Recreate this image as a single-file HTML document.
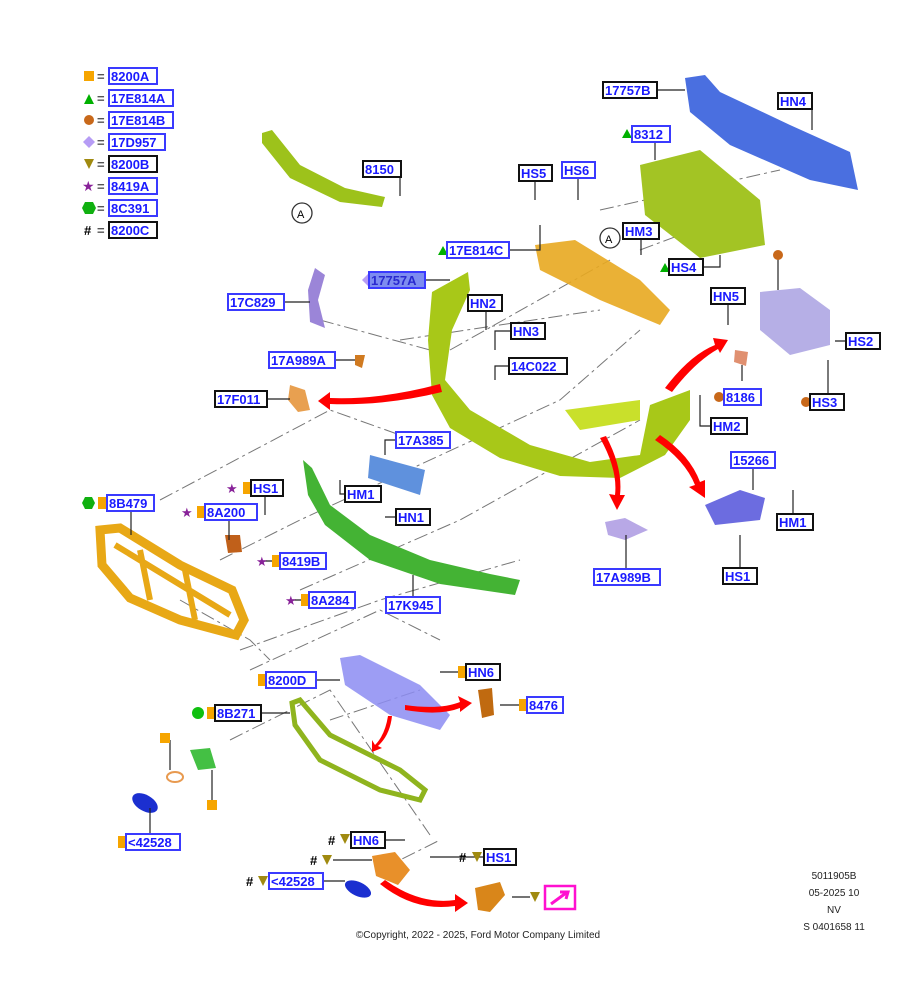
<!DOCTYPE html>
<html><head><meta charset="utf-8"><style>
html,body{margin:0;padding:0;background:#fff;}
svg{display:block;font-family:"Liberation Sans",sans-serif;}
.l rect{fill:#fff;stroke-width:2;}
.l text{font-weight:bold;font-size:13px;fill:#1a1aff;}
.B rect{stroke:#3a3aff;} .K rect{stroke:#111;}
.ln{stroke:#222;stroke-width:1.2;fill:none;}
.dd{stroke:#777;stroke-width:1;fill:none;stroke-dasharray:14,4,3,4;}
.ar{fill:#f00;}
</style></head><body>
<svg width="915" height="1000" viewBox="0 0 915 1000" xmlns="http://www.w3.org/2000/svg">
<g class="dd">
<path d="M320 320 L430 350 M400 340 L600 310 M160 500 L330 410 L400 435 M220 560 L300 520 L560 400 L640 330 M300 590 L460 520 L640 420 M240 650 L380 600 L520 560 M180 600 L250 640 L270 660 M250 670 L380 610 L440 640 M330 720 L420 690 M230 740 L330 690 L430 835 M380 870 L440 840 M600 210 L780 170 M640 250 L720 220 M450 350 L610 260"/>
</g>
<!-- parts -->
<path d="M262 133 L272 130 L300 165 L345 188 L385 197 L382 207 L340 202 L290 178 L262 143Z" fill="#9dc21b"/>
<path d="M685 78 L705 75 L720 92 L790 125 L850 152 L858 190 L810 180 L730 145 L690 112Z" fill="#4a6fe0"/>
<path d="M640 165 L700 150 L760 200 L765 245 L700 258 L645 215Z" fill="#a3c424"/>
<path d="M535 245 L575 240 L640 280 L670 310 L660 325 L600 300 L540 270Z" fill="#e8a820" opacity="0.9"/>
<path d="M432 292 L468 272 L470 290 L452 330 L445 380 L470 410 L530 445 L590 462 L640 455 L650 405 L690 390 L690 420 L665 455 L620 478 L560 476 L500 458 L450 428 L432 395 L428 340Z" fill="#a8c818"/>
<path d="M565 410 L640 400 L640 420 L580 430Z" fill="#c9e02b"/>
<path d="M315 268 L325 275 L318 300 L325 328 L310 322 L308 290Z" fill="#9b85d8"/>
<path d="M290 385 L305 390 L310 410 L298 412 L288 400Z" fill="#e8a050"/>
<path d="M355 355 L365 355 L362 368 L355 365Z" fill="#d07a20"/>
<path d="M370 455 L425 470 L420 495 L368 478Z" fill="#5f91dd"/>
<path d="M303 460 L312 468 L330 505 L370 535 L430 560 L490 574 L520 580 L515 595 L440 584 L370 560 L325 525 L308 495Z" fill="#44b334"/>
<path d="M100 530 L120 528 L180 565 L232 590 L244 620 L236 635 L180 620 L130 598 L102 565Z" fill="none" stroke="#e8a816" stroke-width="9"/>
<path d="M115 545 L230 615 M140 550 L150 600 M185 570 L195 620" stroke="#e8a816" stroke-width="6"/>
<path d="M225 535 L240 535 L242 552 L228 553Z" fill="#c0601a"/>
<path d="M760 292 L800 288 L830 310 L830 345 L790 355 L760 330Z" fill="#b6afe6"/>
<path d="M735 350 L748 352 L746 366 L734 362Z" fill="#e09070"/>
<path d="M705 505 L740 490 L765 498 L760 520 L715 525Z" fill="#6c6ce0"/>
<path d="M605 522 L625 518 L648 530 L625 540 L608 535Z" fill="#b8a8e6"/>
<path d="M340 658 L360 655 L420 685 L450 715 L440 730 L390 715 L345 685Z" fill="#8c8cf2" opacity="0.85"/>
<path d="M292 703 L300 700 L330 735 L400 770 L425 790 L420 800 L380 790 L320 760 L295 725Z" fill="none" stroke="#8fb41e" stroke-width="5"/>
<path d="M478 690 L492 688 L494 715 L482 718Z" fill="#c06a10"/>
<path d="M190 750 L210 748 L216 768 L198 770Z" fill="#44c044"/>
<ellipse cx="145" cy="803" rx="14" ry="8" fill="#1b2fd0" transform="rotate(30 145 803)"/>
<ellipse cx="175" cy="777" rx="8" ry="5" fill="none" stroke="#e89a50" stroke-width="2"/>
<path d="M372 856 L395 852 L410 870 L398 885 L376 876Z" fill="#e8902a"/>
<ellipse cx="358" cy="889" rx="14" ry="7" fill="#1b2fd0" transform="rotate(25 358 889)"/>
<path d="M475 888 L500 882 L505 895 L490 912 L478 910Z" fill="#d9861a"/>
<g class="ar">
<path d="M440 384 Q380 400 330 398 L330 392 L318 401 L330 410 L330 404 Q385 406 442 392Z"/>
<path d="M665 388 Q690 355 715 345 L713 338 L728 340 L720 353 L718 349 Q695 362 672 392Z"/>
<path d="M600 438 Q618 470 615 495 L609 494 L617 510 L625 495 L620 495 Q623 468 606 436Z"/>
<path d="M655 440 Q685 460 695 485 L689 487 L705 498 L705 480 L700 482 Q690 455 660 435Z"/>
<path d="M405 705 Q440 710 460 702 L458 696 L472 703 L460 712 L460 708 Q440 716 405 710Z"/>
<path d="M388 716 Q385 735 375 745 L372 740 L372 752 L382 748 L378 746 Q390 735 392 716Z"/>
<path d="M385 880 Q420 905 455 900 L455 894 L468 903 L455 912 L455 906 Q415 912 380 884Z"/>
</g>
<g class="ln">
<path d="M400 169 L400 196 M657 90 L685 90 M812 109 L812 130 M671 134 L655 134 L655 160 M535 181 L535 200 M578 178 L578 200 M641 239 L641 255 M509 250 L540 250 L540 225 M703 267 L720 267 L720 255 M425 280 L450 280 M284 302 L310 302 M728 304 L728 325 M486 311 L486 330 M511 331 L495 331 L495 350 M778 290 L778 255 M846 341 L835 341 M335 360 L355 360 M509 366 L495 366 L495 380 M742 381 L742 365 M828 394 L828 360 M267 399 L290 399 M711 426 L700 426 L700 395 M396 440 L385 440 L385 455 M753 468 L753 490 M265 496 L265 515 M345 494 L340 494 L340 480 M396 517 L385 517 M777 522 L793 522 L793 490 M131 511 L131 535 M229 520 L229 540 M280 561 L260 561 M740 568 L740 535 M626 569 L626 535 M309 600 L290 600 M413 597 L413 575 M466 672 L440 672 M316 680 L340 680 M527 705 L500 705 M261 713 L290 713 M150 834 L150 808 M385 840 L405 840 M484 857 L430 857 M323 881 L345 881 M512 897 L530 897 M333 860 L372 860 M170 740 L170 770 M212 770 L212 800"/>
</g>
<circle cx="302" cy="213" r="10" fill="#fff" stroke="#333" stroke-width="1.3"/><text x="297" y="218" font-size="11">A</text>
<circle cx="610" cy="238" r="10" fill="#fff" stroke="#333" stroke-width="1.3"/><text x="605" y="243" font-size="11">A</text>
<rect x="84" y="71" width="10" height="10" fill="#f6a500"/>
<path d="M84 104 L89 94 L94 104Z" fill="#00b000"/>
<circle cx="89" cy="120" r="5" fill="#c8681a"/>
<path d="M89 136 L95 142 L89 148 L83 142Z" fill="#b69cf5"/>
<path d="M84 159 L94 159 L89 169Z" fill="#a08a10"/>
<text x="82" y="191" font-size="14" fill="#882299">★</text>
<path d="M85 202 L93 202 L96 208 L93 214 L85 214 L82 208Z" fill="#10b010"/>
<text x="84" y="235" font-size="13" font-weight="bold">#</text>
<g font-size="13" font-weight="bold" fill="#555"><text x="97" y="81">=</text><text x="97" y="103">=</text><text x="97" y="125">=</text><text x="97" y="147">=</text><text x="97" y="169">=</text><text x="97" y="191">=</text><text x="97" y="213">=</text><text x="97" y="235">=</text></g>
<path d="M622 138 L627 129 L632 138Z" fill="#00b000"/>
<path d="M438 255 L443 246 L448 255Z" fill="#00b000"/>
<path d="M660 272 L665 263 L670 272Z" fill="#00b000"/>
<path d="M362 280 L368 274 L374 280 L368 286Z" fill="#b69cf5"/>
<circle cx="716" cy="296" r="5" fill="#c8681a"/>
<circle cx="778" cy="255" r="5" fill="#c8681a"/>
<circle cx="719" cy="397" r="5" fill="#c8681a"/>
<circle cx="806" cy="402" r="5" fill="#c8681a"/>
<rect x="243" y="482" width="8" height="12" fill="#f6a500"/><text x="226" y="493" font-size="13" fill="#882299">★</text>
<rect x="197" y="506" width="8" height="12" fill="#f6a500"/><text x="181" y="517" font-size="13" fill="#882299">★</text>
<rect x="272" y="555" width="8" height="12" fill="#f6a500"/><text x="256" y="566" font-size="13" fill="#882299">★</text>
<rect x="301" y="594" width="8" height="12" fill="#f6a500"/><text x="285" y="605" font-size="13" fill="#882299">★</text>
<rect x="98" y="497" width="8" height="12" fill="#f6a500"/><path d="M85 497 L92 497 L95 503 L92 509 L85 509 L82 503Z" fill="#10b010"/>
<rect x="458" y="666" width="8" height="12" fill="#f6a500"/>
<rect x="258" y="674" width="8" height="12" fill="#f6a500"/>
<rect x="519" y="699" width="8" height="12" fill="#f6a500"/>
<rect x="207" y="707" width="8" height="12" fill="#f6a500"/><circle cx="198" cy="713" r="6" fill="#10c010"/>
<rect x="160" y="733" width="10" height="10" fill="#f6a500"/>
<rect x="207" y="800" width="10" height="10" fill="#f6a500"/>
<rect x="118" y="836" width="8" height="12" fill="#f6a500"/>
<g font-size="13" font-weight="bold"><text x="328" y="845">#</text><text x="310" y="865">#</text><text x="459" y="862">#</text><text x="246" y="886">#</text></g>
<path d="M340 834 L350 834 L345 844Z" fill="#a08a10"/>
<path d="M322 855 L332 855 L327 865Z" fill="#a08a10"/>
<path d="M472 852 L482 852 L477 862Z" fill="#a08a10"/>
<path d="M258 876 L268 876 L263 886Z" fill="#a08a10"/>
<path d="M530 892 L540 892 L535 902Z" fill="#a08a10"/>
<rect x="545" y="886" width="30" height="23" fill="#fff" stroke="#ff10d0" stroke-width="2.5"/>
<path d="M551 904 L566 893 M560 892 L568 892 L566 899" stroke="#ff10d0" stroke-width="3" fill="none"/>
<g class="l B"><rect x="109" y="68" width="48" height="16"/><text x="111" y="81">8200A</text></g>
<g class="l B"><rect x="109" y="90" width="64" height="16"/><text x="111" y="103">17E814A</text></g>
<g class="l B"><rect x="109" y="112" width="64" height="16"/><text x="111" y="125">17E814B</text></g>
<g class="l B"><rect x="109" y="134" width="56" height="16"/><text x="111" y="147">17D957</text></g>
<g class="l K"><rect x="109" y="156" width="48" height="16"/><text x="111" y="169">8200B</text></g>
<g class="l B"><rect x="109" y="178" width="48" height="16"/><text x="111" y="191">8419A</text></g>
<g class="l B"><rect x="109" y="200" width="48" height="16"/><text x="111" y="213">8C391</text></g>
<g class="l K"><rect x="109" y="222" width="48" height="16"/><text x="111" y="235">8200C</text></g>
<g class="l K"><rect x="363" y="161" width="38" height="16"/><text x="365" y="174">8150</text></g>
<g class="l K"><rect x="603" y="82" width="54" height="16"/><text x="605" y="95">17757B</text></g>
<g class="l K"><rect x="778" y="93" width="34" height="16"/><text x="780" y="106">HN4</text></g>
<g class="l B"><rect x="632" y="126" width="38" height="16"/><text x="634" y="139">8312</text></g>
<g class="l K"><rect x="519" y="165" width="33" height="16"/><text x="521" y="178">HS5</text></g>
<g class="l B"><rect x="562" y="162" width="33" height="16"/><text x="564" y="175">HS6</text></g>
<g class="l K"><rect x="623" y="223" width="36" height="16"/><text x="625" y="236">HM3</text></g>
<g class="l B"><rect x="447" y="242" width="62" height="16"/><text x="449" y="255">17E814C</text></g>
<g class="l K"><rect x="669" y="259" width="34" height="16"/><text x="671" y="272">HS4</text></g>
<g class="l B"><rect x="369" y="272" width="56" height="16" style="fill:#7d8cf0"/><text x="371" y="285" style="fill:#2a2ad0">17757A</text></g>
<g class="l B"><rect x="228" y="294" width="56" height="16"/><text x="230" y="307">17C829</text></g>
<g class="l K"><rect x="711" y="288" width="34" height="16"/><text x="713" y="301">HN5</text></g>
<g class="l K"><rect x="468" y="295" width="34" height="16"/><text x="470" y="308">HN2</text></g>
<g class="l K"><rect x="511" y="323" width="34" height="16"/><text x="513" y="336">HN3</text></g>
<g class="l K"><rect x="846" y="333" width="34" height="16"/><text x="848" y="346">HS2</text></g>
<g class="l B"><rect x="269" y="352" width="66" height="16"/><text x="271" y="365">17A989A</text></g>
<g class="l K"><rect x="509" y="358" width="58" height="16"/><text x="511" y="371">14C022</text></g>
<g class="l B"><rect x="724" y="389" width="37" height="16"/><text x="726" y="402">8186</text></g>
<g class="l K"><rect x="810" y="394" width="34" height="16"/><text x="812" y="407">HS3</text></g>
<g class="l K"><rect x="215" y="391" width="52" height="16"/><text x="217" y="404">17F011</text></g>
<g class="l K"><rect x="711" y="418" width="36" height="16"/><text x="713" y="431">HM2</text></g>
<g class="l B"><rect x="396" y="432" width="54" height="16"/><text x="398" y="445">17A385</text></g>
<g class="l B"><rect x="731" y="452" width="44" height="16"/><text x="733" y="465">15266</text></g>
<g class="l K"><rect x="251" y="480" width="32" height="16"/><text x="253" y="493">HS1</text></g>
<g class="l K"><rect x="345" y="486" width="36" height="16"/><text x="347" y="499">HM1</text></g>
<g class="l K"><rect x="396" y="509" width="34" height="16"/><text x="398" y="522">HN1</text></g>
<g class="l K"><rect x="777" y="514" width="36" height="16"/><text x="779" y="527">HM1</text></g>
<g class="l B"><rect x="107" y="495" width="47" height="16"/><text x="109" y="508">8B479</text></g>
<g class="l B"><rect x="205" y="504" width="52" height="16"/><text x="207" y="517">8A200</text></g>
<g class="l B"><rect x="280" y="553" width="46" height="16"/><text x="282" y="566">8419B</text></g>
<g class="l K"><rect x="723" y="568" width="34" height="16"/><text x="725" y="581">HS1</text></g>
<g class="l B"><rect x="594" y="569" width="66" height="16"/><text x="596" y="582">17A989B</text></g>
<g class="l B"><rect x="309" y="592" width="46" height="16"/><text x="311" y="605">8A284</text></g>
<g class="l B"><rect x="386" y="597" width="54" height="16"/><text x="388" y="610">17K945</text></g>
<g class="l K"><rect x="466" y="664" width="34" height="16"/><text x="468" y="677">HN6</text></g>
<g class="l B"><rect x="266" y="672" width="50" height="16"/><text x="268" y="685">8200D</text></g>
<g class="l B"><rect x="527" y="697" width="36" height="16"/><text x="529" y="710">8476</text></g>
<g class="l K"><rect x="215" y="705" width="46" height="16"/><text x="217" y="718">8B271</text></g>
<g class="l B"><rect x="126" y="834" width="54" height="16"/><text x="128" y="847">&lt;42528</text></g>
<g class="l K"><rect x="351" y="832" width="34" height="16"/><text x="353" y="845">HN6</text></g>
<g class="l K"><rect x="484" y="849" width="32" height="16"/><text x="486" y="862">HS1</text></g>
<g class="l B"><rect x="269" y="873" width="54" height="16"/><text x="271" y="886">&lt;42528</text></g>
<g font-size="10" fill="#222" text-anchor="middle">
<text x="834" y="879">5011905B</text><text x="834" y="896">05-2025 10</text><text x="834" y="913">NV</text><text x="834" y="930">S 0401658 11</text>
<text x="478" y="938">©Copyright, 2022 - 2025, Ford Motor Company Limited</text>
</g>
</svg>
</body></html>
